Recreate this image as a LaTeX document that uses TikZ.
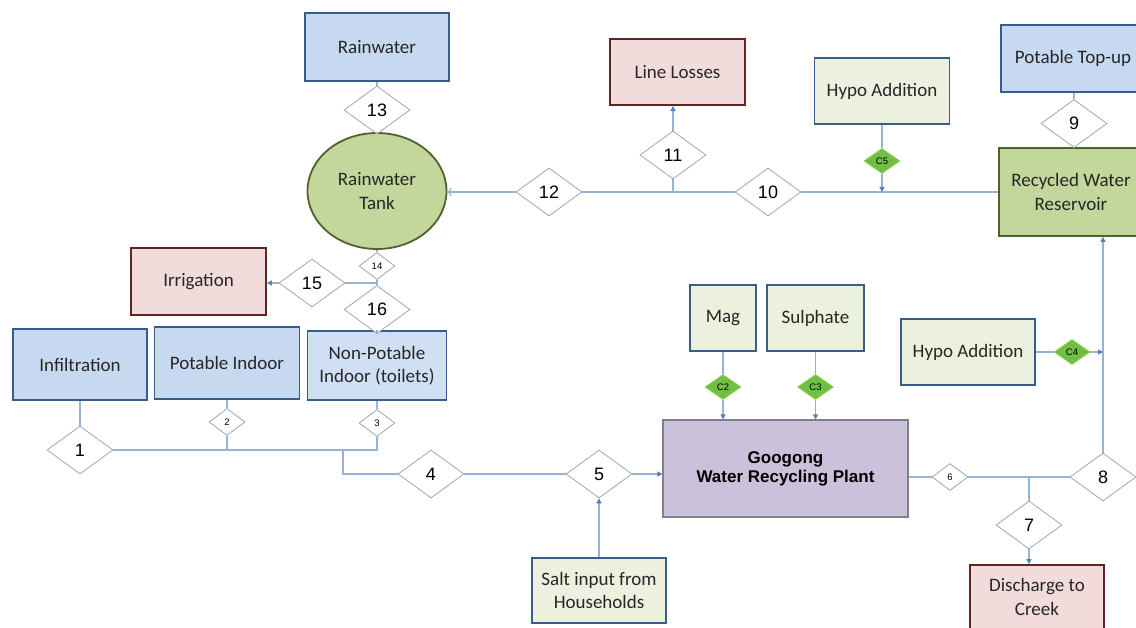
\documentclass[tikz,border=0pt]{standalone}
\usepackage{fontspec}
\setmainfont{Carlito}
\newfontfamily\arialfont{Liberation Sans}
\usetikzlibrary{shapes.geometric,arrows.meta}

\definecolor{bluefill}{RGB}{198,217,241}
\definecolor{bluelight}{RGB}{208,223,243}
\definecolor{blueline}{RGB}{56,93,138}
\definecolor{redfill}{RGB}{242,220,219}
\definecolor{redline}{RGB}{99,37,35}
\definecolor{beigefill}{RGB}{235,241,222}
\definecolor{greenfill}{RGB}{195,214,155}
\definecolor{greenline}{RGB}{79,98,40}
\definecolor{plantfill}{RGB}{204,193,218}
\definecolor{plantline}{RGB}{128,128,140}
\definecolor{chemfill}{RGB}{112,190,68}
\definecolor{chemline}{RGB}{146,208,80}
\definecolor{flowline}{RGB}{166,166,166}
\definecolor{pipecol}{RGB}{149,179,215}
\definecolor{arrowcol}{RGB}{79,129,189}

\begin{document}
\begin{tikzpicture}[x=1pt,y=-1pt]
  \tikzstyle{box}=[rectangle,line width=1.8pt,align=center,inner sep=2pt,text=black!85,font=\fontsize{19}{23.5}\selectfont]
  \tikzstyle{bluebox}=[box,fill=bluefill,draw=blueline]
  \tikzstyle{redbox}=[box,fill=redfill,draw=redline]
  \tikzstyle{dosebox}=[box,fill=beigefill,draw=blueline]
  \tikzstyle{storebox}=[box,fill=greenfill,draw=greenline]
  \tikzstyle{flow}=[diamond,draw=flowline,fill=white,line width=0.8pt,inner sep=0pt,minimum width=66pt,minimum height=48pt,font=\arialfont\fontsize{18}{18}\selectfont]
  \tikzstyle{smallflow}=[flow,minimum width=36pt,minimum height=27pt,font=\arialfont\fontsize{9.5}{9.5}\selectfont]
  \tikzstyle{chem}=[diamond,draw=chemline,fill=chemfill,line width=0.8pt,inner sep=0pt,minimum width=36pt,minimum height=25pt,font=\arialfont\fontsize{9.5}{9.5}\selectfont]
  \tikzstyle{pipe}=[draw=pipecol,line width=1.2pt]
  \tikzstyle{feed}=[pipe,-{Triangle[length=5pt,width=5pt,color=arrowcol]}]

  \useasboundingbox[fill=white] (0,0) rectangle (1136,628);

  \node[bluebox,minimum width=144pt,minimum height=68pt] (rain) at (377,47) {Rainwater};
  \node[ellipse,line width=1.8pt,fill=greenfill,draw=greenline,align=center,text=black!85,minimum width=139pt,minimum height=116pt,font=\fontsize{19}{23.5}\selectfont] (tank) at (377,191) {Rainwater\\Tank};
  \node[redbox,minimum width=135pt,minimum height=67pt] (irrig) at (198.5,281.5) {Irrigation};
  \node[bluebox,minimum width=134pt,minimum height=71pt] (infil) at (80,364.5) {Infiltration};
  \node[bluebox,minimum width=145pt,minimum height=72pt] (potin) at (227,363) {Potable Indoor};
  \node[bluebox,fill=bluelight,minimum width=139pt,minimum height=69pt] (nonpot) at (377,365.5) {Non-Potable\\Indoor (toilets)};
  \node[dosebox,minimum width=134pt,minimum height=65pt] (salt) at (599,590.5) {Salt input from\\Households};
  \node[box,fill=plantfill,draw=plantline,line width=1.2pt,text=black,minimum width=245pt,minimum height=97pt,font=\arialfont\bfseries\fontsize{17}{19}\selectfont] (plant) at (785.5,468.5) {Googong\\Water Recycling Plant};
  \node[dosebox,minimum width=66pt,minimum height=66pt] (mag) at (723,318) {Mag};
  \node[dosebox,minimum width=97pt,minimum height=66pt] (sulph) at (815.5,318) {Sulphate};
  \node[dosebox,minimum width=134pt,minimum height=66pt] (hypoB) at (968,352) {Hypo Addition};
  \node[redbox,minimum width=134pt,minimum height=64pt] (disch) at (1037,597) {Discharge to\\Creek};
  \node[redbox,minimum width=135pt,minimum height=66pt] (losses) at (677.5,72) {Line Losses};
  \node[dosebox,minimum width=135pt,minimum height=66pt] (hypoA) at (882,91) {Hypo Addition};
  \node[bluebox,minimum width=144pt,minimum height=67pt] (topup) at (1073,58.5) {Potable Top-up};
  \node[storebox,minimum width=144pt,minimum height=88pt] (reserv) at (1071,192) {Recycled Water\\Reservoir};

  \node[flow] (D_1) at (80,450) {1};
  \node[smallflow] (D_2) at (227,422) {2};
  \node[smallflow] (D_3) at (377,423) {3};
  \node[flow] (D_4) at (431,474) {4};
  \node[flow] (D_5) at (599,474) {5};
  \node[smallflow] (D_6) at (950,477) {6};
  \node[flow] (D_7) at (1029,525) {7};
  \node[flow] (D_8) at (1103,477) {8};
  \node[flow] (D_9) at (1074,123.5) {9};
  \node[flow] (D_10) at (768,192) {10};
  \node[flow] (D_11) at (673,155) {11};
  \node[flow] (D_12) at (549,192) {12};
  \node[flow] (D_13) at (377,110) {13};
  \node[smallflow] (D_14) at (377,266) {14};
  \node[flow] (D_15) at (312,283) {15};
  \node[flow] (D_16) at (377,309.5) {16};

  \node[chem] (C_2) at (723,387) {C2};
  \node[chem] (C_3) at (815.5,387) {C3};
  \node[chem] (C_4) at (1072,352) {C4};
  \node[chem] (C_5) at (882,161) {C5};

  \coordinate (J_tank) at (377,283);
  \coordinate (J_loss) at (673,192);
  \coordinate (J_hypo) at (882,192);
  \coordinate (J_home) at (377,450);
  \coordinate (J_sewer) at (343,450);
  \coordinate (J_creek) at (1029,477);
  \coordinate (J_reuse) at (1103,352);

  \draw[pipe] (rain) -- (D_13) -- (tank);
  \draw[pipe] (tank) -- (D_14) -- (J_tank) -- (D_16) -- (nonpot);
  \draw[pipe] (J_tank) -- (D_15);
  \draw[feed] (D_15.west) -- (D_15.west -| irrig.east);

  \draw[pipe] (reserv.west |- D_10) -- (D_10) -- (J_loss) -- (D_12);
  \draw[pipe,->] (D_12.west) -- (D_12.west -| tank.east);
  \draw[pipe] (J_loss) -- (D_11);
  \draw[feed] (D_11.north) -- (D_11.north |- losses.south);
  \draw[pipe] (hypoA) -- (C_5);
  \draw[feed] (C_5) -- (J_hypo);
  \draw[pipe] (topup.south -| D_9) -- (D_9) -- (D_9.south |- reserv.north);

  \draw[pipe] (infil) -- (D_1);
  \draw[pipe] (potin.south -| D_2) -- (D_2);
  \draw[pipe] (nonpot) -- (D_3);
  \draw[pipe] (D_1) -- (J_home) -- (D_3);
  \draw[pipe] (D_2) -- (D_2 |- J_home);
  \draw[pipe] (J_sewer) |- (D_4);
  \draw[pipe] (D_4) -- (D_5);
  \draw[feed] (D_5.east) -- (D_5.east -| plant.west);
  \draw[feed] (salt) -- (D_5);

  \draw[pipe] (mag) -- (C_2);
  \draw[feed] (C_2) -- (C_2 |- plant.north);
  \draw[pipe] (sulph) -- (C_3);
  \draw[feed] (C_3) -- (C_3 |- plant.north);

  \draw[pipe] (D_6.west -| plant.east) -- (D_6) -- (D_8);
  \draw[pipe] (J_creek) -- (D_7);
  \draw[feed] (D_7.south) -- (D_7.south |- disch.north);
  \draw[feed] (D_8.north) -- (D_8.north |- reserv.south);
  \draw[pipe] (hypoB) -- (C_4);
  \draw[feed] (C_4) -- (J_reuse);
\end{tikzpicture}
\end{document}
